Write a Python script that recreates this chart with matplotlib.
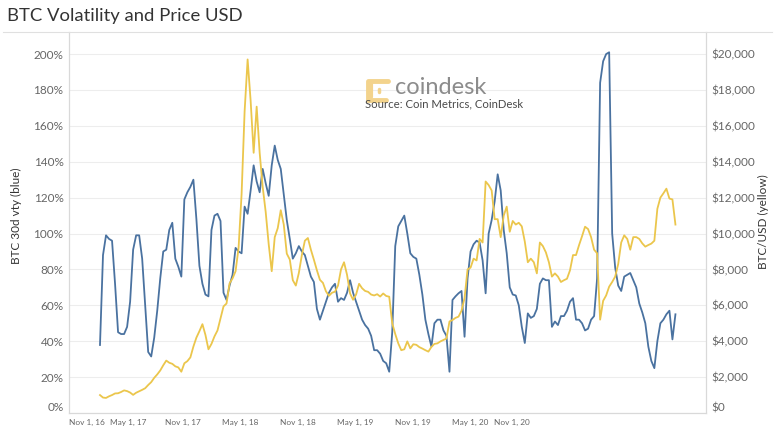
import numpy as np
import pandas as pd
import matplotlib
matplotlib.use("Agg")
import matplotlib.pyplot as plt
from matplotlib.lines import Line2D

plt.rcParams['font.family'] = ['Lato', 'DejaVu Sans']

#%% datos (semanal)
start = "2017-01-07"

vol = [37.9, 88, 99, 97, 96, 72, 45, 44, 44, 48,
       62, 91, 99, 99, 86, 60, 34, 31.5, 42, 57,
       75, 90, 91, 102, 106, 86, 81.5, 76, 119, 123,
       126, 130, 108, 82, 72, 66, 65, 102, 110, 111,
       107, 67, 63, 71, 77, 92, 90, 89, 115, 111,
       124, 138, 129, 123, 136, 128, 121, 138, 149, 141,
       136, 122, 107.5, 97, 86, 89, 93, 90, 88, 82,
       76, 73, 58, 52, 57, 62, 67, 70, 72, 62,
       64, 63, 67, 74, 67, 62, 57, 52, 49, 47,
       43, 35, 35, 33, 29, 27.7, 23, 45, 93, 104,
       107, 110, 100, 89, 87, 86, 77, 66, 52, 44,
       37, 50, 52, 52, 46, 43, 23, 63, 65, 66.7,
       68, 42.5, 75, 90, 94, 96, 95, 85, 66.7, 100,
       107.5, 118, 133, 124, 102, 89, 70, 66, 65.5, 60,
       48, 39, 55.5, 53, 54, 58, 72, 75, 74, 74,
       48, 51, 49, 54, 54, 57, 62, 64, 52, 52,
       50, 46, 47, 52, 54, 75, 184, 196, 200, 201,
       100, 81, 71, 68, 76, 77, 78, 74, 70, 61,
       56, 50, 37, 29, 25, 40, 50, 52, 55, 57,
       41, 55]

price = [1000, 860, 840, 930, 1000, 1090, 1100, 1170, 1260, 1220,
         1140, 1010, 1130, 1210, 1290, 1380, 1560, 1720, 1960, 2150,
         2370, 2660, 2920, 2800, 2740, 2600, 2540, 2300, 2770, 2890,
         3100, 3700, 4200, 4560, 4950, 4350, 3550, 3850, 4270, 4600,
         5280, 5940, 6100, 7220, 7500, 7900, 9200, 12200, 16800, 19700,
         17400, 14500, 17070, 14500, 12600, 11200, 9400, 7900, 9800, 10300,
         11300, 10500, 8880, 8550, 7400, 7100, 7800, 8800, 9600, 9750,
         9100, 8540, 7950, 7420, 7250, 6780, 6530, 6700, 6760, 7100,
         8000, 8400, 7700, 6660, 6310, 6600, 7200, 6950, 6800, 6750,
         6600, 6550, 6620, 6490, 6660, 6520, 6480, 5000, 4400, 3880,
         3500, 3550, 3990, 3600, 3830, 3800, 3670, 3590, 3500, 3420,
         3680, 3850, 3880, 3990, 4070, 4150, 5100, 5180, 5300, 5370,
         5700, 6400, 8000, 8100, 8600, 8500, 9700, 9500, 12900, 12700,
         12400, 10800, 10800, 9800, 11000, 11500, 10100, 10700, 10500, 10600,
         10400, 9550, 8400, 8600, 8400, 7780, 9500, 9300, 8950, 8400,
         7600, 7780, 7600, 7300, 7400, 7480, 7950, 8800, 8800, 9350,
         9850, 10380, 10250, 9800, 9100, 8900, 5200, 6250, 6550, 7040,
         7300, 7600, 8300, 9500, 9900, 9700, 9100, 9800, 9800, 9700,
         9450, 9270, 9360, 9440, 9600, 11380, 12000, 12240, 12500, 11950,
         11900, 10500]

tick_dates = ["2016-10-27", "2017-03-14", "2017-07-19", "2017-11-28", "2018-04-12",
              "2018-08-23", "2019-01-04", "2019-05-17", "2019-08-22"]
tick_labels = ["Nov 1, 16", "May 1, 17", "Nov 1, 17", "May 1, 18", "Nov 1, 18",
               "May 1, 19", "Nov 1, 19", "May 1, 20", "Nov 1, 20"]

vol_ticks = list(range(0, 201, 20))
price_ticks = list(range(0, 20001, 2000))

dates = pd.date_range(start, periods=len(vol), freq="7D")

#%% figura
W, H = 775, 436
fig = plt.figure(figsize=(W / 100, H / 100), dpi=100)
x0, x1, ytop, ybot = 69, 706, 32, 413
ax = fig.add_axes([x0 / W, 1 - ybot / H, (x1 - x0) / W, (ybot - ytop) / H])
ax2 = ax.twinx()

# tamaño de las fechas: que "Nov 1, 16" mida unos 36 px como en el original
renderer = fig.canvas.get_renderer()
probe = fig.text(0, 0, tick_labels[0], fontsize=8)
xsize = 8 * 36 / probe.get_window_extent(renderer=renderer).width
probe.remove()

blue = '#4a72a0'
yellow = '#ebc64c'
grey_txt = '#666666'

ax.plot(dates, vol, color=blue, lw=1.3, solid_joinstyle='round')
ax2.plot(dates, price, color=yellow, lw=1.3, solid_joinstyle='round')

ax.set_xlim(pd.Timestamp("2016-10-27"), pd.Timestamp("2020-11-15"))
ax.set_ylim(0, 212.3)
ax2.set_ylim(0, 21230)

ax.set_yticks(vol_ticks)
ax.set_yticklabels([f"{v}%" for v in vol_ticks])
ax2.set_yticks(price_ticks)
ax2.set_yticklabels([f"${p:,}" for p in price_ticks])
ax.set_xticks(pd.to_datetime(tick_dates))
ax.set_xticklabels(tick_labels)
ax.tick_params(axis='x', length=0, labelcolor=grey_txt, labelsize=xsize, pad=4)
ax.get_xticklabels()[0].set_ha('left')
ax.get_yticklabels()[0].set_va('bottom')
ax2.get_yticklabels()[0].set_va('bottom')

ax.yaxis.grid(True, color='#ededed', lw=0.8)
ax.set_axisbelow(True)
ax.tick_params(axis='y', length=0, labelsize=8.5, labelcolor=grey_txt, pad=4)
ax2.tick_params(length=0, labelsize=8.5, labelcolor=grey_txt, pad=4)

for a in (ax, ax2):
    a.spines['top'].set_visible(False)
    for s in ('left', 'right', 'bottom'):
        a.spines[s].set_color('#d9d9d9')
        a.spines[s].set_linewidth(0.8)

ax.set_ylabel("BTC 30d vty (blue)", fontsize=8.5, color='#333333')
ax.yaxis.set_label_coords((22 - x0) / (x1 - x0), (ybot - 216) / (ybot - ytop))
ax2.set_ylabel("BTC/USD (yellow)", fontsize=8.5, color='#333333')
ax2.yaxis.set_label_coords((758 - x0) / (x1 - x0), (ybot - 222) / (ybot - ytop))

# titulo y linea de cabecera
fig.text(7 / W, 1 - 16 / H, "BTC Volatility and Price USD", fontsize=13.3,
         color='#333333', va='center', ha='left')
fig.add_artist(Line2D([3 / W, 772 / W], [1 - ytop / H, 1 - ytop / H],
                      color='#e0e0e0', lw=0.8))

# logo coindesk
logo_c = '#f3d38c'
fig.add_artist(Line2D([388 / W, 368 / W, 368 / W, 386 / W],
                      [1 - 81 / H, 1 - 81 / H, 1 - 100 / H, 1 - 100 / H],
                      color=logo_c, lw=3.5, solid_capstyle='round',
                      solid_joinstyle='round'))
fig.add_artist(Line2D([371 / W, 371 / W], [1 - 84 / H, 1 - 97 / H],
                      color=logo_c, lw=3, solid_capstyle='round'))
fig.add_artist(Line2D([379 / W, 379 / W], [1 - 89 / H, 1 - 92 / H],
                      color=logo_c, lw=2.5, solid_capstyle='round'))
fig.text(395 / W, 1 - 88 / H, "coindesk", fontsize=17, color='#8c8c8c',
         va='center', ha='left')
fig.text(365 / W, 1 - 104 / H, "Source: Coin Metrics, CoinDesk", fontsize=8.2,
         color='#4a4a4a', va='center', ha='left')

fig.savefig("out.png", dpi=100)
